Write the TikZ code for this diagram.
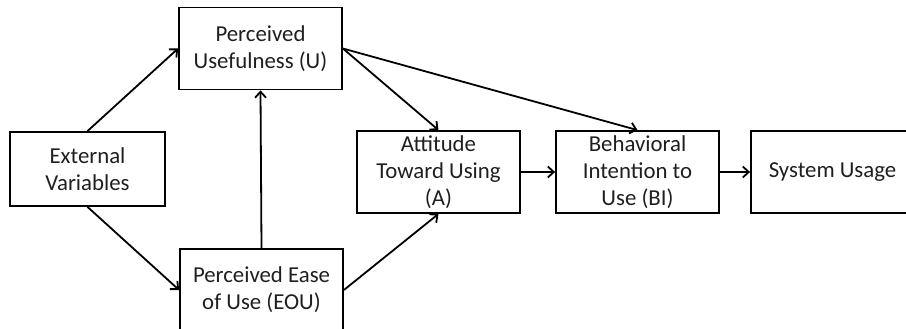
\documentclass[tikz,border=0pt]{standalone}
\usepackage{fontspec}
\setmainfont{Carlito}
\usetikzlibrary{arrows.meta}
\begin{document}
\begin{tikzpicture}[x=1pt,y=-1pt,
  box/.style={draw=black, line width=1.8pt, minimum width=163pt, minimum height=82pt,
    inner sep=0pt, align=center, text=black!88,
    font=\fontsize{22.8}{27}\selectfont},
  arr/.style={line width=1.8pt, -{Straight Barb[length=6pt,width=11pt,line width=1.8pt]}}]
\useasboundingbox (0,0) rectangle (906,329);
\clip (0,0) rectangle (906,329);
\node[box, minimum width=155pt, minimum height=74pt] (ev) at (87.5,169) {External\\Variables};
\node[box] (pu) at (260.5,48.5) {Perceived\\Usefulness (U)};
\node[box] (peou) at (261.5,290) {Perceived Ease\\of Use (EOU)};
\node[box] (att) at (438.5,172) {Attitude\\Toward Using\\(A)};
\node[box] (bi) at (637.5,172) {Behavioral\\Intention to\\Use (BI)};
\node[box] (su) at (832.5,172) {System Usage};
\draw[arr] (ev.north) -- (pu.west);
\draw[arr] (ev.south) -- (peou.west);
\draw[arr] (peou.north) -- (pu.south);
\draw[arr] (pu.east) -- (att.north);
\draw[arr] (pu.east) -- (bi.north);
\draw[arr] (peou.east) -- (att.south);
\draw[arr] (att.east) -- (bi.west);
\draw[arr] (bi.east) -- (su.west);
\end{tikzpicture}
\end{document}
